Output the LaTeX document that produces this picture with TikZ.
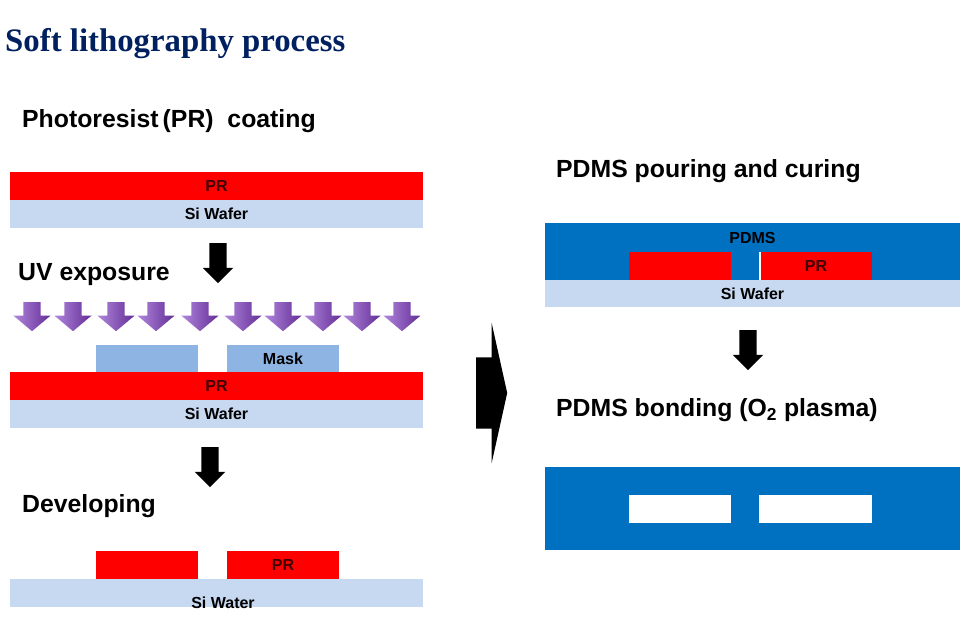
\documentclass[tikz,border=0pt]{standalone}
\usepackage{fontspec}
\setmainfont{Liberation Sans}
\newfontfamily\titlefont{Liberation Serif}
\usetikzlibrary{shapes, arrows, positioning, shadows}
\definecolor{prcolor}{RGB}{255,0,0}
\definecolor{prtext}{RGB}{64,0,0}
\definecolor{sicolor}{RGB}{198,217,240}
\definecolor{maskcolor}{RGB}{141,180,226}
\definecolor{pdmscolor}{RGB}{0,112,192}
\definecolor{titlenavy}{RGB}{0,32,96}
\definecolor{uvlight}{RGB}{175,135,220}
\definecolor{uvdark}{RGB}{100,45,150}

\begin{document}
\begin{tikzpicture}[
        x=1pt, y=-1pt,
        layer/.style={
            rectangle, anchor=north west, inner sep=0pt, outer sep=0pt,
            minimum height=28, font=\bfseries\fontsize{16}{16}\selectfont
        },
        prlayer/.style={layer, fill=prcolor, text=prtext},
        silayer/.style={layer, fill=sicolor, minimum width=413},
        masklayer/.style={layer, fill=maskcolor},
        pdmslayer/.style={layer, fill=pdmscolor, minimum width=415},
        channel/.style={layer, fill=white},
        tag/.style={inner sep=0pt, font=\bfseries\fontsize{16}{16}\selectfont},
        heading/.style={anchor=base west, inner sep=0pt, font=\bfseries\fontsize{24.8}{28}\selectfont},
        downarrow/.style={
            single arrow, fill=black, rotate=-90, anchor=tail, inner sep=0pt, inner ysep=8.5,
            minimum height=40, minimum width=30, single arrow head extend=6.5
        },
        uvarrow/.style={
            single arrow, left color=uvlight, right color=uvdark, rotate=-90, anchor=tail,
            inner sep=0pt, inner ysep=8.5, minimum height=29, minimum width=37,
            single arrow head extend=10, single arrow tip angle=100
        },
        bigarrow/.style={
            single arrow, fill=black, anchor=tail, inner sep=0pt, inner ysep=35.5,
            minimum height=31, minimum width=140, single arrow head extend=34.5,
            single arrow tip angle=155
        }
    ]
        \useasboundingbox (0,0) rectangle (962,617);

        % Title
        \node[anchor=base west, inner sep=0pt, text=titlenavy,
              font=\titlefont\bfseries\fontsize{32.8}{36}\selectfont] (title) at (5,52) {Soft lithography process};

        % Left side: coating
        \node[heading] (coat) at (22,128) {Photoresist\,(PR)\ \ coating};
        \node[prlayer, minimum width=413] (pr1) at (10,172) {PR};
        \node[silayer] (si1) at (pr1.south west) {Si Wafer};
        \node[downarrow] (arr1) at (218,243) {};

        % UV exposure
        \node[heading] (uv) at (18,281) {UV exposure};
        \foreach \x [count=\i] in {32,73,116,156,200,243,283,323,362,402}
            \node[uvarrow] (uv\i) at (\x,302) {};
        \node[masklayer, minimum width=102] (maskL) at (96,345) {};
        \node[masklayer, minimum width=112] (maskR) at (227,345) {Mask};
        \node[prlayer, minimum width=413] (pr2) at (10,372) {PR};
        \node[silayer] (si2) at (pr2.south west) {Si Wafer};
        \node[downarrow] (arr2) at (210,447) {};

        % Developing
        \node[heading] (dev) at (22,513) {Developing};
        \node[prlayer, minimum width=102] (devL) at (96,551) {};
        \node[prlayer, minimum width=112] (devR) at (227,551) {PR};
        \node[silayer] (si3) at (10,579) {};
        \node[tag] (siwater) at (223,603) {Si Water};

        % Middle arrow
        \node[bigarrow] (big) at (476,393) {};

        % Right side: pouring and curing
        \node[heading] (pour) at (556,178) {PDMS pouring and curing};
        \node[pdmslayer, minimum height=57] (pdms1) at (545,223) {};
        \node[tag, anchor=north, yshift=-9] (pdmstag) at (pdms1.north) {PDMS};
        \node[prlayer, minimum width=102] (moldL) at (629,252) {};
        \node[prlayer, minimum width=112] (moldR) at (760,252) {PR};
        \draw[white, line width=1.2] (moldR.north west) -- (moldR.south west);
        \node[silayer, minimum width=415, minimum height=27] (si4) at (545,280) {Si Wafer};
        \node[downarrow] (arr3) at (748,330) {};

        % Bonding
        \node[heading] (bond) at (556,417) {PDMS bonding (O\textsubscript{2} plasma)};
        \node[pdmslayer, minimum height=83] (pdms2) at (545,467) {};
        \node[channel, minimum width=102] (chanL) at (629,495) {};
        \node[channel, minimum width=113] (chanR) at (759,495) {};

    \end{tikzpicture}
\end{document}
